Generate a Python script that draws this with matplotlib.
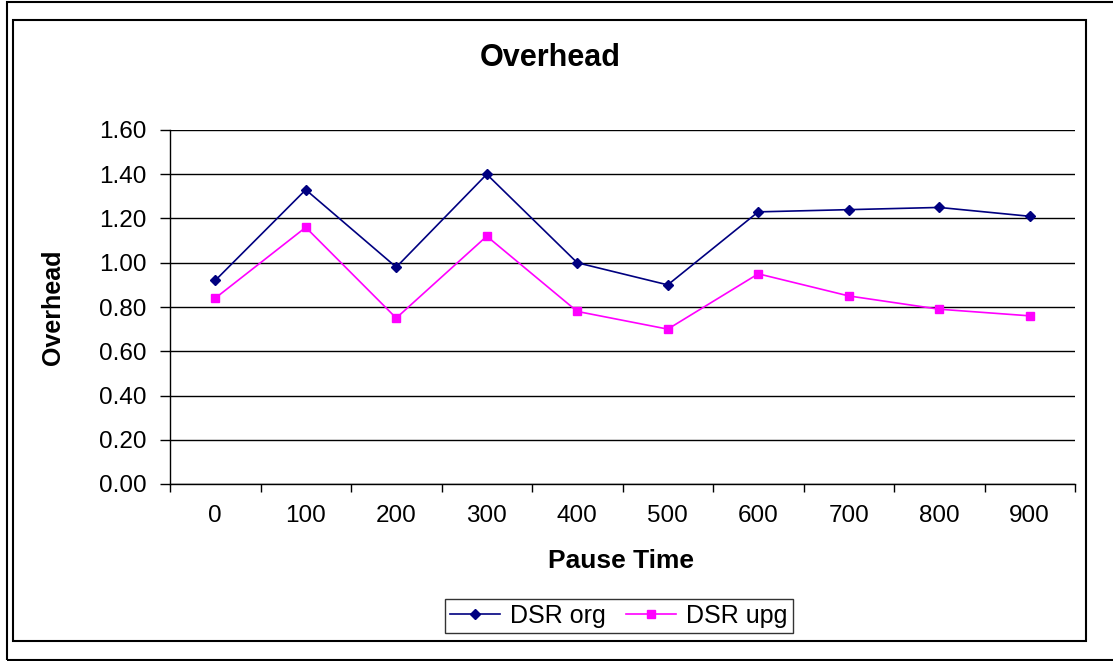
import numpy as np
import matplotlib.pyplot as plt
from matplotlib.patches import Rectangle

plt.rcParams['font.family'] = ['Liberation Sans', 'DejaVu Sans']

pause_time = ["0", "100", "200", "300", "400", "500", "600", "700", "800", "900"]
dsr_org = [0.92, 1.33, 0.98, 1.40, 1.00, 0.90, 1.23, 1.24, 1.25, 1.21]
dsr_upg = [0.84, 1.16, 0.75, 1.12, 0.78, 0.70, 0.95, 0.85, 0.79, 0.76]

W, H = 1113, 661
fig = plt.figure(figsize=(W / 100, H / 100), dpi=100)

# outer frame (right edge runs off the picture) and inner chart frame
fig.patches.append(Rectangle((7 / W, 1 / H), 1115 / W, 658 / H, transform=fig.transFigure,
                             fill=False, edgecolor="black", linewidth=1.5))
fig.patches.append(Rectangle((13 / W, 20 / H), 1073 / W, 621 / H, transform=fig.transFigure,
                             fill=False, edgecolor="black", linewidth=1.5))

# plot area: x 170..1075, y 130..484 px
ax = fig.add_axes([170 / W, 1 - 484 / H, 905 / W, 354 / H])
x = np.arange(len(pause_time))
ax.plot(x, dsr_org, color="#000080", marker="D", markersize=5.5, linewidth=1.2, label="DSR org")
ax.plot(x, dsr_upg, color="#FF00FF", marker="s", markersize=6, linewidth=1.2, label="DSR upg")

ax.set_xlim(-0.5, len(pause_time) - 0.5)
ax.set_ylim(0, 1.6)
ax.set_yticks(np.arange(0, 1.61, 0.2))
ax.set_yticklabels([f"{v:.2f}" for v in np.arange(0, 1.61, 0.2)])
ax.set_xticks(x)
ax.set_xticklabels(pause_time)
ax.set_xticks(np.arange(-0.5, len(pause_time), 1.0), minor=True)
ax.tick_params(axis="x", which="major", length=0, pad=15, labelsize=17.5)
ax.tick_params(axis="x", which="minor", length=6, width=1, direction="out")
ax.tick_params(axis="y", length=7, width=1, direction="out", pad=10, labelsize=17.5)
ax.yaxis.grid(True, color="black", linewidth=1)
ax.set_axisbelow(True)
for s in ["top", "right"]:
    ax.spines[s].set_visible(False)
ax.spines["left"].set_linewidth(1)
ax.spines["bottom"].set_linewidth(1)

fig.text(550 / W, 1 - 58 / H, "Overhead", ha="center", va="center", fontsize=22, fontweight="bold")
fig.text(621 / W, 1 - 561 / H, "Pause Time", ha="center", va="center", fontsize=19, fontweight="bold")
fig.text(53 / W, 1 - 307 / H, "Overhead", ha="center", va="center", fontsize=18,
         fontweight="bold", rotation=90)

leg = fig.legend(loc="center", bbox_to_anchor=(619 / W, 1 - 616 / H), ncol=2, fontsize=18,
                 frameon=True, fancybox=False, edgecolor="black", handlelength=2.0,
                 handletextpad=0.4, columnspacing=0.8, borderpad=0.2, borderaxespad=0)
leg.get_frame().set_linewidth(1)

fig.savefig("out.png", dpi=100)
